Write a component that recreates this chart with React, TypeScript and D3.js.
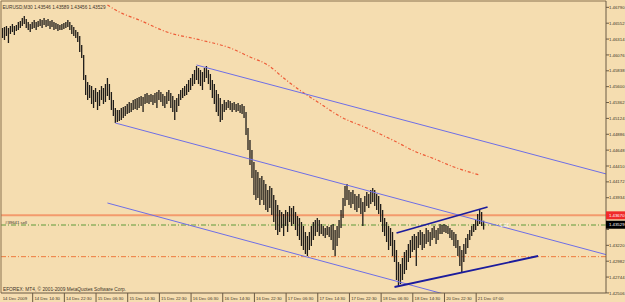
import React from "react";
import * as d3 from "d3";

const W = 625;
const H = 302;

const symbolTitle = "EURUSD,M30";
const titleOHLC = ["1.43546", "1.43589", "1.43456", "1.43529"];
const copyright = "EFOREX: MT4, © 2001-2009 MetaQuotes Software Corp.";
const orderLabel = "#39641 sell";

const timeLabels = [
  "14 Dec 2009", "14 Dec 14:30", "14 Dec 22:30", "15 Dec 06:30", "15 Dec 14:30",
  "15 Dec 22:30", "16 Dec 06:30", "16 Dec 14:30", "16 Dec 22:30", "17 Dec 06:30",
  "17 Dec 14:30", "17 Dec 22:30", "18 Dec 06:30", "18 Dec 14:30", "20 Dec 22:30",
  "21 Dec 07:00",
];
const timeLabelBars = [0, 16, 32, 48, 64, 80, 96, 112, 128, 144, 160, 176, 192, 208, 224, 240];

const priceTicks = [
  1.4679, 1.46552, 1.46314, 1.46076, 1.45838, 1.456, 1.45362, 1.45124, 1.44886, 1.44648,
  1.4441, 1.44172, 1.43934, 1.43696, 1.43458, 1.4322, 1.42982, 1.42744, 1.42506,
];

// bar highs / lows (M30 bars)
const barHighs = [
  1.4648, 1.46495, 1.4651, 1.4648, 1.4651, 1.4654, 1.4651, 1.46525, 1.4657, 1.46585,
  1.4663, 1.4666, 1.46615, 1.4657, 1.4654, 1.4657, 1.466, 1.4657, 1.46585, 1.46615,
  1.466, 1.4663, 1.466, 1.46615, 1.46585, 1.466, 1.4657, 1.46555, 1.4654, 1.46525,
  1.4654, 1.46555, 1.4657, 1.466, 1.4657, 1.46525, 1.46495, 1.4645, 1.4642, 1.4636,
  1.46225, 1.46075, 1.45775, 1.4567, 1.45625, 1.4561, 1.4555, 1.4558, 1.4552, 1.4555,
  1.4561, 1.4558, 1.4564, 1.4573, 1.4564, 1.4552, 1.454, 1.4528, 1.4525, 1.4525,
  1.4528, 1.45295, 1.4531, 1.4534, 1.4537, 1.45355, 1.454, 1.45415, 1.4543, 1.45445,
  1.4546, 1.45445, 1.4549, 1.45505, 1.45475, 1.4549, 1.45475, 1.45505, 1.4552, 1.4555,
  1.4552, 1.4549, 1.4546, 1.4552, 1.4555, 1.45505, 1.4546, 1.454, 1.4543, 1.4549,
  1.4555, 1.4558, 1.4561, 1.4564, 1.457, 1.4573, 1.4579, 1.4585, 1.4591, 1.4588,
  1.4585, 1.4582, 1.4588, 1.4591, 1.4585, 1.4579, 1.457, 1.4564, 1.4555, 1.4549,
  1.4543, 1.4534, 1.454, 1.4537, 1.454, 1.45385, 1.45355, 1.4537, 1.4534, 1.45355,
  1.45325, 1.4534, 1.4531, 1.4522, 1.4498, 1.448, 1.4465, 1.4447, 1.4435, 1.4432,
  1.4423, 1.4426, 1.442, 1.4414, 1.4405, 1.4411, 1.4408, 1.43975, 1.439, 1.43825,
  1.4375, 1.4372, 1.4369, 1.4375, 1.4372, 1.4381, 1.4378, 1.4381, 1.4372, 1.4366,
  1.4363, 1.4357, 1.4351, 1.4342, 1.4336, 1.4342, 1.4351, 1.4357, 1.436, 1.4363,
  1.436, 1.4354, 1.4351, 1.4348, 1.4351, 1.43495, 1.43525, 1.4354, 1.4345, 1.4351,
  1.436, 1.4375, 1.4393, 1.4411, 1.4414, 1.4405, 1.4402, 1.4405, 1.4399, 1.4396,
  1.4399, 1.4393, 1.4387, 1.4396, 1.4402, 1.4399, 1.4405, 1.4408, 1.4405, 1.4399,
  1.4396, 1.4384, 1.4375, 1.4363, 1.4357, 1.4351, 1.4348, 1.4342, 1.433, 1.4315,
  1.4297, 1.4294, 1.4303, 1.4312, 1.4315, 1.4324, 1.433, 1.4336, 1.4339, 1.4336,
  1.4342, 1.4345, 1.4342, 1.4339, 1.4348, 1.4345, 1.4342, 1.4348, 1.4351, 1.4345,
  1.4348, 1.4354, 1.43525, 1.4354, 1.43525, 1.4351, 1.4348, 1.4345, 1.4342, 1.4339,
  1.433, 1.4321, 1.4315, 1.4324, 1.4333, 1.4339, 1.4345, 1.4351, 1.4354, 1.436,
  1.4369, 1.43765, 1.4372, 1.43589,
];
const barLows = [
  1.4633, 1.463, 1.4636, 1.46255, 1.4639, 1.4642, 1.46375, 1.46435, 1.4645, 1.4648,
  1.4651, 1.4654, 1.4648, 1.4645, 1.4642, 1.46465, 1.4648, 1.4645, 1.46495, 1.4651,
  1.4648, 1.46525, 1.46495, 1.4651, 1.46465, 1.46495, 1.4645, 1.46465, 1.46435, 1.4645,
  1.4645, 1.46465, 1.4648, 1.46495, 1.4645, 1.4639, 1.4636, 1.4633, 1.4627, 1.4612,
  1.4603, 1.457, 1.45475, 1.454, 1.4543, 1.4534, 1.4528, 1.4537, 1.4525, 1.4531,
  1.454, 1.4534, 1.4537, 1.4546, 1.454, 1.4525, 1.4516, 1.45055, 1.4507, 1.45085,
  1.451, 1.4513, 1.4516, 1.4519, 1.45205, 1.4522, 1.4525, 1.45265, 1.4525, 1.4528,
  1.4531, 1.4522, 1.4534, 1.45355, 1.4534, 1.4537, 1.45325, 1.45355, 1.4528, 1.454,
  1.4537, 1.4531, 1.4528, 1.4534, 1.45385, 1.4528, 1.4522, 1.451, 1.4522, 1.4531,
  1.454, 1.4543, 1.4546, 1.45475, 1.4552, 1.4555, 1.4561, 1.4564, 1.457, 1.4564,
  1.4561, 1.4555, 1.4567, 1.4573, 1.4564, 1.4555, 1.4543, 1.4534, 1.4522, 1.4516,
  1.4507, 1.451, 1.4522, 1.4525, 1.4528, 1.4525, 1.4522, 1.4525, 1.4522, 1.45235,
  1.45205, 1.4519, 1.4513, 1.44875, 1.4465, 1.44425, 1.4423, 1.43975, 1.439, 1.4393,
  1.43825, 1.439, 1.43825, 1.4375, 1.4372, 1.4378, 1.43675, 1.4357, 1.4345, 1.43375,
  1.4342, 1.4348, 1.4336, 1.4351, 1.4342, 1.4357, 1.4351, 1.4354, 1.4345, 1.4336,
  1.433, 1.4321, 1.4315, 1.4309, 1.4306, 1.4315, 1.4321, 1.433, 1.4336, 1.4342,
  1.4336, 1.4339, 1.4336, 1.4333, 1.43375, 1.43345, 1.433, 1.4315, 1.4306, 1.4321,
  1.4333, 1.4348, 1.4363, 1.4381, 1.439, 1.43825, 1.4378, 1.4384, 1.4375, 1.4372,
  1.4378, 1.4369, 1.4351, 1.4372, 1.4381, 1.4378, 1.4384, 1.4387, 1.4381, 1.4375,
  1.4369, 1.4357, 1.4342, 1.4336, 1.4327, 1.4315, 1.4321, 1.4306, 1.4297, 1.427,
  1.42595, 1.4264, 1.427, 1.4279, 1.4285, 1.4297, 1.4303, 1.4312, 1.4315, 1.4291,
  1.4318, 1.43225, 1.4315, 1.4318, 1.4324, 1.4327, 1.4321, 1.433, 1.4333, 1.4324,
  1.433, 1.4339, 1.4339, 1.4342, 1.43405, 1.4339, 1.4333, 1.433, 1.4321, 1.4318,
  1.4306, 1.4291, 1.4282, 1.4297, 1.4309, 1.4318, 1.433, 1.4336, 1.4342, 1.4345,
  1.4351, 1.4354, 1.4351, 1.43456,
];

// moving average (dash-dot), bar index -> value
const maBars = [53, 59, 69, 83, 100, 115, 125, 134, 142, 150, 160, 171, 184, 197, 209, 217, 228, 241];
const maValues = [
  1.46825, 1.4672, 1.466, 1.4642, 1.463, 1.4618, 1.46045, 1.45925, 1.4573, 1.4555,
  1.45355, 1.45145, 1.4498, 1.448, 1.4462, 1.4453, 1.44395, 1.44275,
];

// trend lines: [barIndex, price] anchors
const channelUpper = [[98, 1.45925], [305, 1.4429]];
const channelMiddle = [[57, 1.45055], [201, 1.43908]];
const channelLower = [[53, 1.43855], [221, 1.42505]];
const wedgeUpper = [[199, 1.43405], [245, 1.43795]];
const wedgeLower = [[198, 1.42595], [270.5, 1.4306]];

const levelRed = 1.4367;
const levelRedLabel = "1.43670";
const levelOrder = 1.43525;
const levelTarget = 1.4305;
const currentBid = 1.43529;
const currentBidLabel = "1.43529";

export default function App() {
  const plotL = 1, plotT = 1, plotR = 606, plotB = 293;
  const x = d3.scaleLinear().domain([0, 243]).range([2.5, 483.6]);
  const y = d3.scaleLinear().domain([1.4690, 1.4690 - 0.00015 * 302]).range([0, 302]);

  const rayTo = (pts: number[][], extend: boolean) => {
    const [[i1, p1], [i2, p2]] = pts;
    const iEnd = extend ? x.invert(plotR + 2) : i2;
    const slope = (p2 - p1) / (i2 - i1);
    return [
      [x(i1), y(p1)],
      [x(iEnd), y(p1 + slope * (iEnd - i1))],
    ];
  };
  const seg = (pts: number[][], extend: boolean) => {
    const [[ax, ay], [bx, by]] = rayTo(pts, extend);
    return { x1: ax, y1: ay, x2: bx, y2: by };
  };

  const maLine = d3
    .line<number>()
    .x((_, k) => x(maBars[k]))
    .y((v) => y(v))
    .curve(d3.curveMonotoneX)(maValues) as string;

  const fontAxis = "'Liberation Sans', Arial, sans-serif";
  const textCol = "#3c3428";
  const bars = barHighs.map((h, i) => ({ i, h, l: barLows[i] }));
  const boxLevels = [y(levelRed), y(currentBid)];
  const visibleTicks = priceTicks.filter((p) => boxLevels.every((b) => Math.abs(y(p) - b) > 4.8));

  return (
    <svg
      width={W}
      height={H}
      style={{ position: "absolute", left: 0, top: 0, display: "block" }}
      fontFamily={fontAxis}
    >
      <defs>
        <clipPath id="plotClip">
          <rect x={plotL} y={plotT} width={plotR - plotL} height={plotB - plotT} />
        </clipPath>
      </defs>
      <rect x={0} y={0} width={W} height={H} fill="#F5DDB0" />

      <g clipPath="url(#plotClip)">
        {/* horizontal levels */}
        <line x1={plotL} x2={plotR} y1={y(levelTarget)} y2={y(levelTarget)} stroke="#EE7A3C" strokeWidth={1} strokeDasharray="5,2,1,2" />
        <line x1={plotL} x2={plotR} y1={y(levelOrder)} y2={y(levelOrder)} stroke="#5E9A3A" strokeWidth={1} strokeDasharray="5,2,1,2" />
        <line x1={plotL} x2={plotR} y1={y(levelRed)} y2={y(levelRed)} stroke="#F39A6C" strokeWidth={2} />

        {/* moving average */}
        <path d={maLine} fill="none" stroke="#EE5A36" strokeWidth={1.2} strokeDasharray="3,2,1,2" />

        {/* bars */}
        {bars.map((b) => (
          <line key={"b" + b.i} x1={x(b.i)} x2={x(b.i)} y1={y(b.h)} y2={y(b.l)} stroke="#1f1c19" strokeWidth={1.3} />
        ))}

        {/* channel lines */}
        <line {...seg(channelUpper, true)} stroke="#6E6EE6" strokeWidth={1} />
        <line {...seg(channelMiddle, true)} stroke="#6E6EE6" strokeWidth={1} />
        <line {...seg(channelLower, true)} stroke="#6E6EE6" strokeWidth={1} />
        <line {...seg(wedgeUpper, false)} stroke="#1C1C9C" strokeWidth={1.8} />
        <line {...seg(wedgeLower, false)} stroke="#1C1C9C" strokeWidth={1.8} />

        <text x={500} y={y(levelOrder) + 1.8} fontSize={4.6} fill="#FFFFFF">1.43</text>
        <text x={5} y={y(levelOrder) - 1.2} fontSize={4.3} fill={textCol}>{orderLabel}</text>
      </g>

      {/* frame */}
      <line x1={plotL} x2={plotR} y1={1} y2={1} stroke="#8a7250" strokeWidth={1} />
      <line x1={1} x2={1} y1={plotT} y2={plotB} stroke="#8a7250" strokeWidth={1} />
      <line x1={plotR} x2={plotR} y1={plotT} y2={plotB} stroke="#6a5a44" strokeWidth={1} />
      <line x1={plotL} x2={plotR} y1={plotB} y2={plotB} stroke="#6a5a44" strokeWidth={1} />

      {/* header */}
      <text x={2.5} y={9} fontSize={4.7} fill={textCol} textLength={103} lengthAdjust="spacingAndGlyphs">
        {symbolTitle + " " + titleOHLC.join(" ")}
      </text>
      <text x={3} y={290.5} fontSize={4.6} fill={textCol} textLength={123} lengthAdjust="spacingAndGlyphs">
        {copyright}
      </text>

      {/* price axis */}
      {priceTicks.map((p) => (
        <line key={"t" + p} x1={plotR} x2={plotR + 3} y1={y(p)} y2={y(p)} stroke="#6a5a44" strokeWidth={1} />
      ))}
      {visibleTicks.map((p) => (
        <text key={"l" + p} x={609} y={y(p) + 1.6} fontSize={4.3} fill={textCol}>
          {d3.format(".5f")(p)}
        </text>
      ))}
      <rect x={plotR} y={y(levelRed) - 4} width={W - plotR} height={8} fill="#F02A2A" />
      <text x={609} y={y(levelRed) + 1.6} fontSize={4.3} fill="#FFFFFF">{levelRedLabel}</text>
      <rect x={plotR} y={y(currentBid) - 4} width={W - plotR} height={8} fill="#000000" />
      <text x={609} y={y(currentBid) + 1.6} fontSize={4.3} fill="#FFFFFF">{currentBidLabel}</text>

      {/* time axis */}
      {timeLabels.map((t, k) => (
        <g key={t}>
          {k > 0 && (
            <line x1={x(timeLabelBars[k]) - 1.5} x2={x(timeLabelBars[k]) - 1.5} y1={plotB} y2={H} stroke="#6a5a44" strokeWidth={1} />
          )}
          <text x={x(timeLabelBars[k]) + 0.2} y={300} fontSize={4.3} fill={textCol}>
            {t}
          </text>
        </g>
      ))}
    </svg>
  );
}
